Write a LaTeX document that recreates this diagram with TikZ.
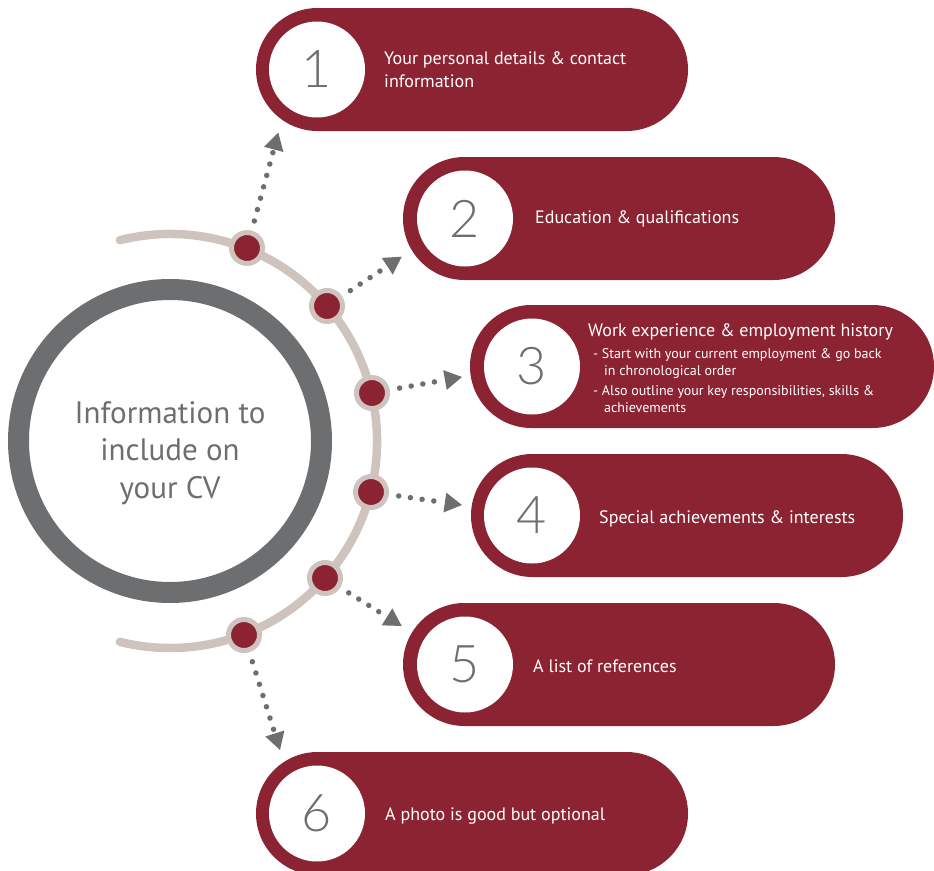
\documentclass[tikz,border=0pt]{standalone}
\usepackage{fontspec}
\setmainfont{PT Sans}
\newfontfamily\numfont{Lato Light}
\usetikzlibrary{arrows.meta}

\definecolor{cvred}{HTML}{8B2332}
\definecolor{ringgray}{HTML}{6D6E70}
\definecolor{trackbeige}{HTML}{CEC3BD}

\begin{document}
\begin{tikzpicture}[x=1pt,y=-1pt,
  hub/.style={circle, draw=ringgray, line width=21pt, minimum size=303pt, inner sep=0pt},
  hubtext/.style={align=center, text=ringgray, inner sep=0pt,
    font=\fontsize{31}{37.5}\selectfont},
  track/.style={draw=trackbeige, line width=8.5pt, line cap=round},
  stop/.style={circle, fill=cvred, draw=trackbeige, line width=5pt,
    minimum size=31pt, inner sep=0pt},
  pill/.style={fill=cvred, rounded corners=61.5pt, minimum height=123pt,
    inner sep=0pt, minimum width=#1},
  pill/.default=432pt,
  disc/.style={circle, fill=white, minimum size=96pt, inner sep=0pt,
    text=ringgray, font=\numfont\fontsize{52}{52}\selectfont},
  label/.style={anchor=base west, inner sep=0pt, text=white, align=left,
    font=\fontsize{18}{23}\selectfont},
  sublabel/.style={anchor=base west, inner sep=0pt, text=white, align=left,
    font=\fontsize{14}{17}\selectfont},
  dotarrow/.style={draw=ringgray, line width=5.5pt, line cap=round,
    dash pattern=on 0pt off 11.8pt, shorten <=10pt,
    -{Triangle[length=17.3pt,width=20pt,line width=0pt]}}
]
\path[use as bounding box] (0,0) rectangle (934,870);

% central hub and the curved track around it
\node[hub] (hub) at (170,441) {};
\node[hubtext] (hubtext) at (170,453) {Information to\\include on\\your CV};
\draw[track] (170,441) ++(-104:207) arc[start angle=-104, end angle=104, radius=207];

% stops on the track
\node[stop] (d1) at (247,248) {};
\node[stop] (d2) at (327,306) {};
\node[stop] (d3) at (372,393) {};
\node[stop] (d4) at (371,492) {};
\node[stop] (d5) at (325,578) {};
\node[stop] (d6) at (244,635) {};

% item pills
\node[pill] (p1) at (472,69.5) {};
\node[pill] (p2) at (619,218.5) {};
\node[pill=464pt] (p3) at (702,366.5) {};
\node[pill] (p4) at (687,515.5) {};
\node[pill] (p5) at (619,664.5) {};
\node[pill] (p6) at (472,813.5) {};

% numbered discs
\node[disc] (n1) at (317,69.5) {1};
\node[disc] (n2) at (465,218.5) {2};
\node[disc] (n3) at (532,366.5) {3};
\node[disc] (n4) at (532,515.5) {4};
\node[disc] (n5) at (465,664.5) {5};
\node[disc] (n6) at (317,813.5) {6};

% item texts (multi-line nodes sit on the baseline of their last line)
\node[label] (t1) at (384,87) {Your personal details \& contact\\information};
\node[label] (t2) at (535,223) {Education \& qualifications};
\node[label] (t3) at (588,336) {Work experience \& employment history};
\node[sublabel] (t3a) at (593,375) {- Start with your current employment \& go back\\\hspace*{11pt}in chronological order};
\node[sublabel] (t3b) at (593,412) {- Also outline your key responsibilities, skills \&\\\hspace*{11pt}achievements};
\node[label] (t4) at (599,523) {Special achievements \& interests};
\node[label] (t5) at (533,672) {A list of references};
\node[label] (t6) at (385,820) {A photo is good but optional};

% arrow ends
\coordinate (e1) at (278.3,132.7);
\coordinate (e2) at (401.7,256.7);
\coordinate (e3) at (462,377);
\coordinate (e4) at (462,505);
\coordinate (e5) at (401.7,626);
\coordinate (e6) at (280,750);

% dotted arrows from the stops
\draw[dotarrow] (d1) -- (e1);
\draw[dotarrow] (d2) -- (e2);
\draw[dotarrow] (d3) -- (e3);
\draw[dotarrow] (d4) -- (e4);
\draw[dotarrow] (d5) -- (e5);
\draw[dotarrow] (d6) -- (e6);
\end{tikzpicture}
\end{document}
